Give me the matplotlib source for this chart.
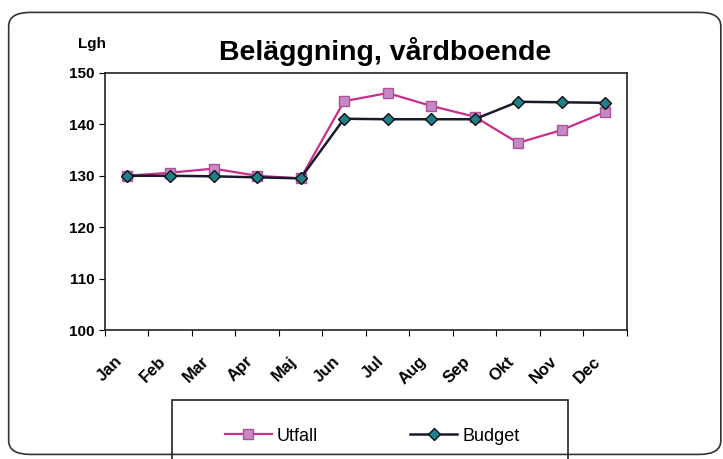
import matplotlib.pyplot as plt
from matplotlib.patches import FancyBboxPatch, Rectangle
from matplotlib.transforms import ScaledTranslation

plt.rcParams['font.family'] = ['Liberation Sans', 'DejaVu Sans']

# data
months = ['Jan', 'Feb', 'Mar', 'Apr', 'Maj', 'Jun', 'Jul', 'Aug', 'Sep', 'Okt', 'Nov', 'Dec']
utfall = [130.0, 130.6, 131.4, 130.0, 129.5, 144.5, 146.1, 143.6, 141.5, 136.4, 138.9, 142.4]
budget = [130.0, 130.0, 129.9, 129.7, 129.5, 141.1, 141.0, 141.0, 141.0, 144.4, 144.3, 144.2]

W, H = 723, 459
fig = plt.figure(figsize=(W / 100, H / 100), dpi=100)

# rounded outer frame around the whole chart
frame = FancyBboxPatch((0.012, 0.01), 0.985, 0.963, boxstyle='round,pad=0,rounding_size=0.03',
                       transform=fig.transFigure, fill=False, edgecolor='#333333', linewidth=1.2)
fig.patches.append(frame)

ax = fig.add_axes([0.145, 0.281, 0.722, 0.560])
x = list(range(len(months)))

ax.plot(x, utfall, color='#cc2c8a', linewidth=1.6, marker='s', markersize=7,
        markerfacecolor='#c48ac4', markeredgecolor='#b0509a', label='Utfall')
ax.plot(x, budget, color='#1a1a2e', linewidth=1.8, marker='D', markersize=6.5,
        markerfacecolor='#1f7f8a', markeredgecolor='#111111', label='Budget')

ax.set_xlim(-0.5, len(months) - 0.5)
ax.set_ylim(100, 150)
ax.set_yticks([100, 110, 120, 130, 140, 150])
ax.set_xticks([i - 0.5 for i in range(len(months) + 1)], minor=False)
ax.set_xticklabels([])
ax.set_xticks(x, minor=True)
ax.set_xticklabels(months, minor=True, rotation=45, ha='right', rotation_mode='anchor',
                   fontsize=12, fontweight='bold')
ax.tick_params(axis='x', which='minor', length=0, pad=17)
ax.tick_params(axis='x', which='major', direction='out', length=4)
ax.tick_params(axis='y', direction='out', length=4, labelsize=11)
for lbl in ax.get_yticklabels():
    lbl.set_fontweight('bold')
# scanned labels sit a little left of the category centres
shift = ScaledTranslation(-12 / 100, 0, fig.dpi_scale_trans)
for lbl in ax.get_xticklabels(minor=True):
    lbl.set_transform(lbl.get_transform() + shift)

for sp in ax.spines.values():
    sp.set_color('#222222')
    sp.set_linewidth(1.2)

ax.set_title('Beläggning, vårdboende', fontsize=20.5, fontweight='bold', pad=9, x=0.536)
fig.text(0.108, 0.905, 'Lgh', fontsize=11, fontweight='bold', ha='left', va='center')

# legend box runs off the bottom of the scan
box = Rectangle((172 / W, -0.05), 396 / W, 0.05 + 59 / H, transform=fig.transFigure,
                fill=False, edgecolor='#222222', linewidth=1.2)
fig.patches.append(box)
fig.legend(loc='center', bbox_to_anchor=(0.515, 0.05), ncol=2, frameon=False,
           fontsize=13, handlelength=2.6, columnspacing=5.1, handletextpad=0.3)

fig.savefig('out.png', dpi=100)
